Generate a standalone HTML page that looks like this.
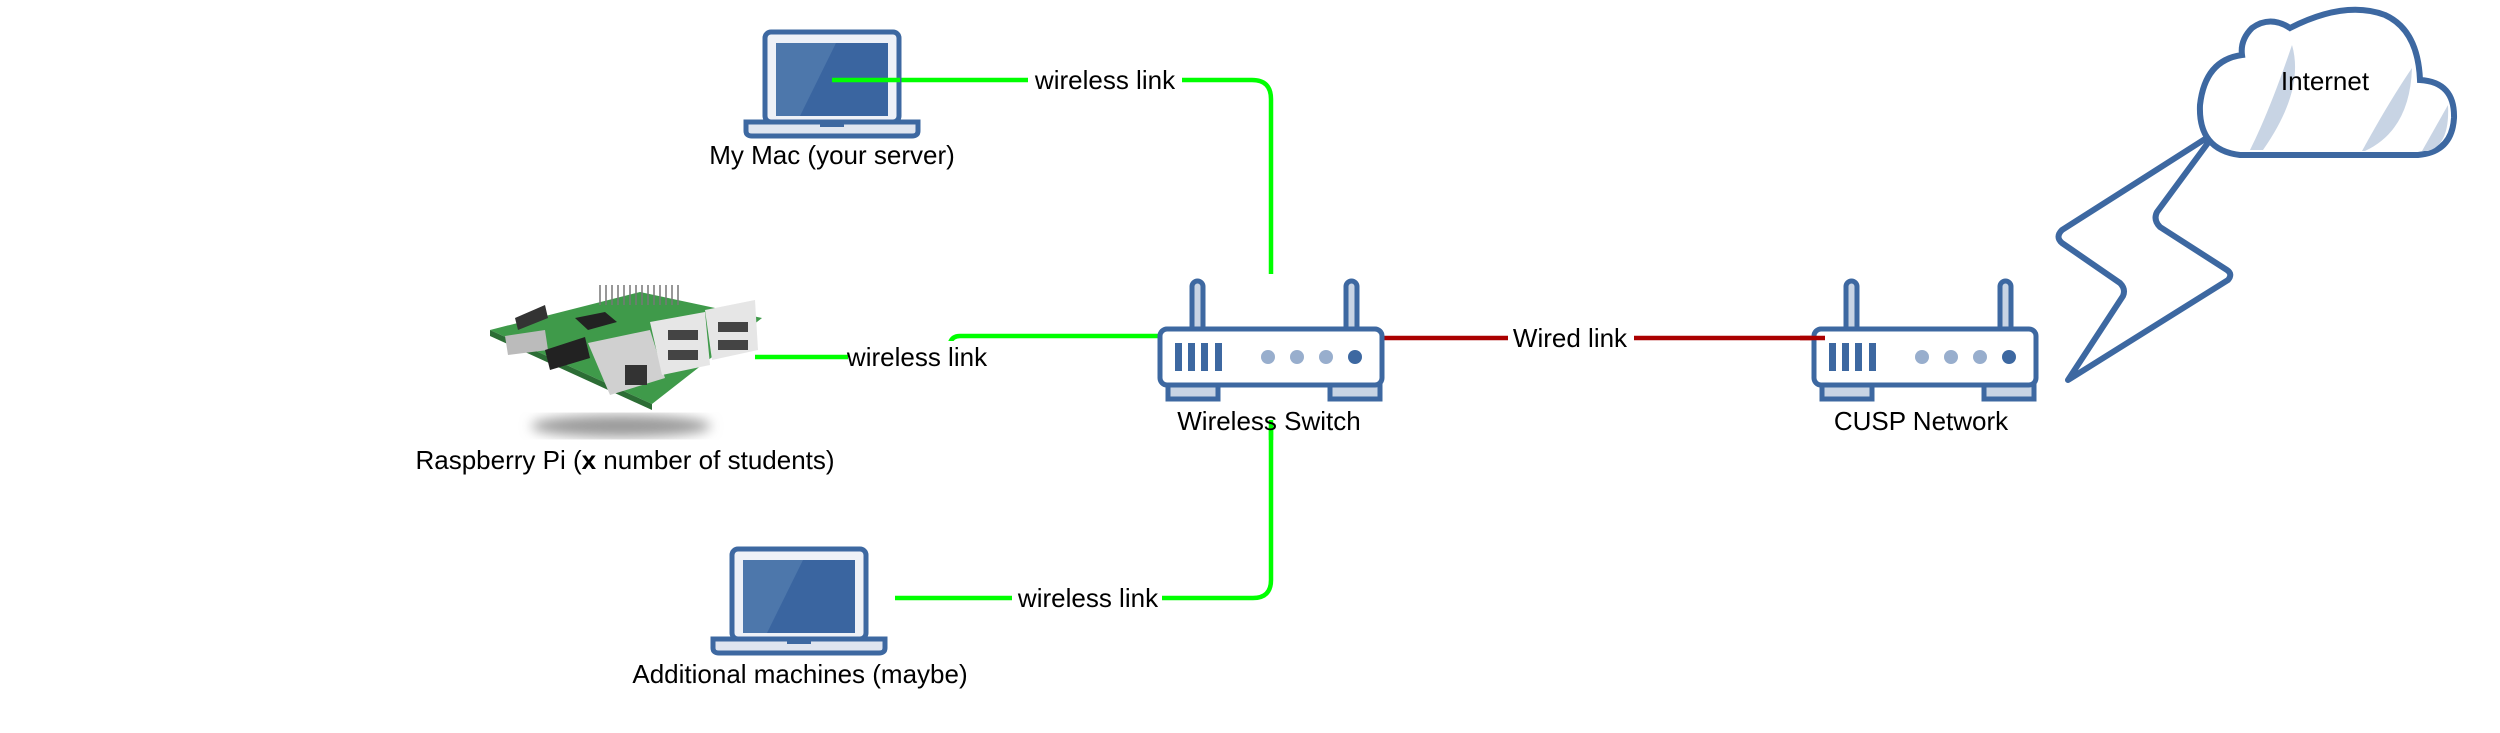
<!DOCTYPE html>
<html><head><meta charset="utf-8"><style>
html,body{margin:0;padding:0;background:#fff;width:2500px;height:733px;overflow:hidden}
svg{display:block}
text{font-family:"Liberation Sans",Arial,sans-serif;font-size:26px;fill:#000}
</style></head><body>
<svg width="2500" height="733" viewBox="0 0 2500 733" xmlns="http://www.w3.org/2000/svg">
<defs>
<g id="laptop">
  <rect x="21" y="2" width="134" height="90" rx="6" fill="#eef1f7" stroke="#3d68a1" stroke-width="5"/>
  <rect x="32" y="13" width="112" height="73" fill="#3a65a0"/>
  <polygon points="32,13 92,13 56,86 32,86" fill="#4d77ab"/>
  <path d="M2,92 H174 V101 Q174,106 168,106 H8 Q2,106 2,101 Z" fill="#dfe5f0" stroke="#3d68a1" stroke-width="5"/>
  <rect x="76" y="92" width="24" height="5" fill="#3d68a1"/>
</g>
<g id="router">
  <rect x="34" y="0" width="11" height="55" rx="5.5" fill="#c8d4e4" stroke="#3d68a1" stroke-width="5"/>
  <rect x="188" y="0" width="11" height="55" rx="5.5" fill="#c8d4e4" stroke="#3d68a1" stroke-width="5"/>
  <rect x="10" y="102" width="50" height="16" fill="#c8d4e4" stroke="#3d68a1" stroke-width="5"/>
  <rect x="172" y="102" width="50" height="16" fill="#c8d4e4" stroke="#3d68a1" stroke-width="5"/>
  <rect x="2" y="48" width="222" height="56" rx="7" fill="#fff" stroke="#3d68a1" stroke-width="5"/>
  <rect x="17" y="62" width="7" height="28" fill="#3d68a1"/>
  <rect x="30" y="62" width="7" height="28" fill="#3d68a1"/>
  <rect x="43" y="62" width="7" height="28" fill="#3d68a1"/>
  <rect x="57" y="62" width="7" height="28" fill="#3d68a1"/>
  <ellipse cx="110" cy="76" rx="7" ry="7" fill="#98aecd"/>
  <ellipse cx="139" cy="76" rx="7" ry="7" fill="#98aecd"/>
  <ellipse cx="168" cy="76" rx="7" ry="7" fill="#98aecd"/>
  <ellipse cx="197" cy="76" rx="7" ry="7" fill="#3d68a1"/>
</g>
<filter id="blur"><feGaussianBlur stdDeviation="6"/></filter>
</defs>

<!-- connectors -->
<g fill="none" stroke="#00ff00" stroke-width="4.5">
  <path d="M832,80 H1252 Q1271,80 1271,99 V274"/>
  <path d="M1159,336 H960 Q952,336 950,343"/>
  <path d="M755,357 H850"/>
  <path d="M1271,427 V580 Q1271,598 1253,598 H895"/>
</g>
<path d="M1382,338 H1822" stroke="#aa0000" stroke-width="4.5" fill="none"/>

<!-- laptops -->
<use href="#laptop" transform="translate(744,30)"/>
<use href="#laptop" transform="translate(711,547)"/>
<!-- redraw top connector over laptop 1 screen -->
<path d="M832,80 H900" stroke="#00ff00" stroke-width="4.5"/>

<!-- routers -->
<use href="#router" transform="translate(1158,281)"/>
<use href="#router" transform="translate(1812,281)"/>
<path d="M1271,420 V440" stroke="#00ff00" stroke-width="4.5"/>
<path d="M1800,338 H1825" stroke="#aa0000" stroke-width="4.5"/>

<!-- lightning -->
<path d="M2216,132 L2062,230 Q2055,237 2062,243 L2120,283 Q2126,289 2123,296 L2068,380 L2228,280 Q2233,274 2227,270 L2160,227 Q2153,220 2157,212 Z" fill="none" stroke="#3d68a1" stroke-width="6" stroke-linejoin="round"/>

<!-- cloud -->
<g>
  <path d="M2240,155 H2418 Q2452,152 2454,118 Q2455,82 2420,80 Q2418,30 2385,15 Q2345,0 2290,28 Q2270,15 2252,28 Q2240,40 2242,55 Q2205,60 2200,105 Q2198,150 2240,155 Z" fill="#fff" stroke="#3d68a1" stroke-width="6"/>
  <path d="M2292,45 Q2305,90 2263,150 H2250 Q2270,110 2292,45 Z" fill="#c8d4e4"/>
  <path d="M2412,68 Q2410,130 2365,151 H2362 Q2390,100 2412,68 Z" fill="#c8d4e4"/>
  <path d="M2448,105 Q2450,145 2428,151 H2422 Z" fill="#c8d4e4"/>
</g>

<!-- raspberry pi (approximation) -->
<g>
  <ellipse cx="621" cy="426" rx="90" ry="11" fill="#9a9a9a" filter="url(#blur)"/>
  <polygon points="490,330 640,292 762,318 652,404" fill="#3f9a4a"/>
  <polygon points="490,330 652,404 652,410 490,336" fill="#2c6d35"/>
  <g stroke="#777" stroke-width="1.5">
    <path d="M600,285 V305 M606,285 V305 M612,285 V305 M618,285 V305 M624,285 V305 M630,285 V305 M636,285 V305 M642,285 V305 M648,285 V305 M654,285 V305 M660,285 V305 M666,285 V305 M672,285 V305 M678,285 V305"/>
  </g>
  <polygon points="575,318 605,312 617,322 588,330" fill="#222"/>
  <polygon points="515,318 545,305 548,318 518,330" fill="#333"/>
  <polygon points="505,336 545,330 548,350 508,355" fill="#bbb"/>
  <polygon points="545,350 585,337 590,358 550,370" fill="#222"/>
  <polygon points="588,343 650,330 665,378 610,395" fill="#d0d0d0"/>
  <rect x="625" y="365" width="22" height="20" fill="#333"/>
  <polygon points="650,322 705,312 710,365 662,375" fill="#e6e6e6"/>
  <polygon points="705,310 755,300 758,350 712,360" fill="#e6e6e6"/>
  <rect x="668" y="330" width="30" height="10" fill="#444"/>
  <rect x="668" y="350" width="30" height="10" fill="#444"/>
  <rect x="718" y="322" width="30" height="10" fill="#444"/>
  <rect x="718" y="340" width="30" height="10" fill="#444"/>
</g>

<!-- labels -->
<g text-anchor="middle">
  <rect x="1028" y="64" width="154" height="32" fill="#fff"/>
  <text x="1105" y="89">wireless link</text>
  <rect x="848" y="341" width="142" height="32" fill="#fff"/>
  <text x="917" y="366">wireless link</text>
  <rect x="1012" y="582" width="150" height="32" fill="#fff"/>
  <text x="1088" y="607">wireless link</text>
  <rect x="1508" y="322" width="126" height="32" fill="#fff"/>
  <text x="1570" y="347">Wired link</text>
  <text x="832" y="164">My Mac (your server)</text>
  <text x="625" y="469">Raspberry Pi (<tspan font-weight="bold">x</tspan> number of students)</text>
  <text x="800" y="683">Additional machines (maybe)</text>
  <text x="1269" y="430">Wireless Switch</text>
  <text x="1921" y="430">CUSP Network</text>
  <text x="2325" y="90">Internet</text>
</g>
</svg>
</body></html>
